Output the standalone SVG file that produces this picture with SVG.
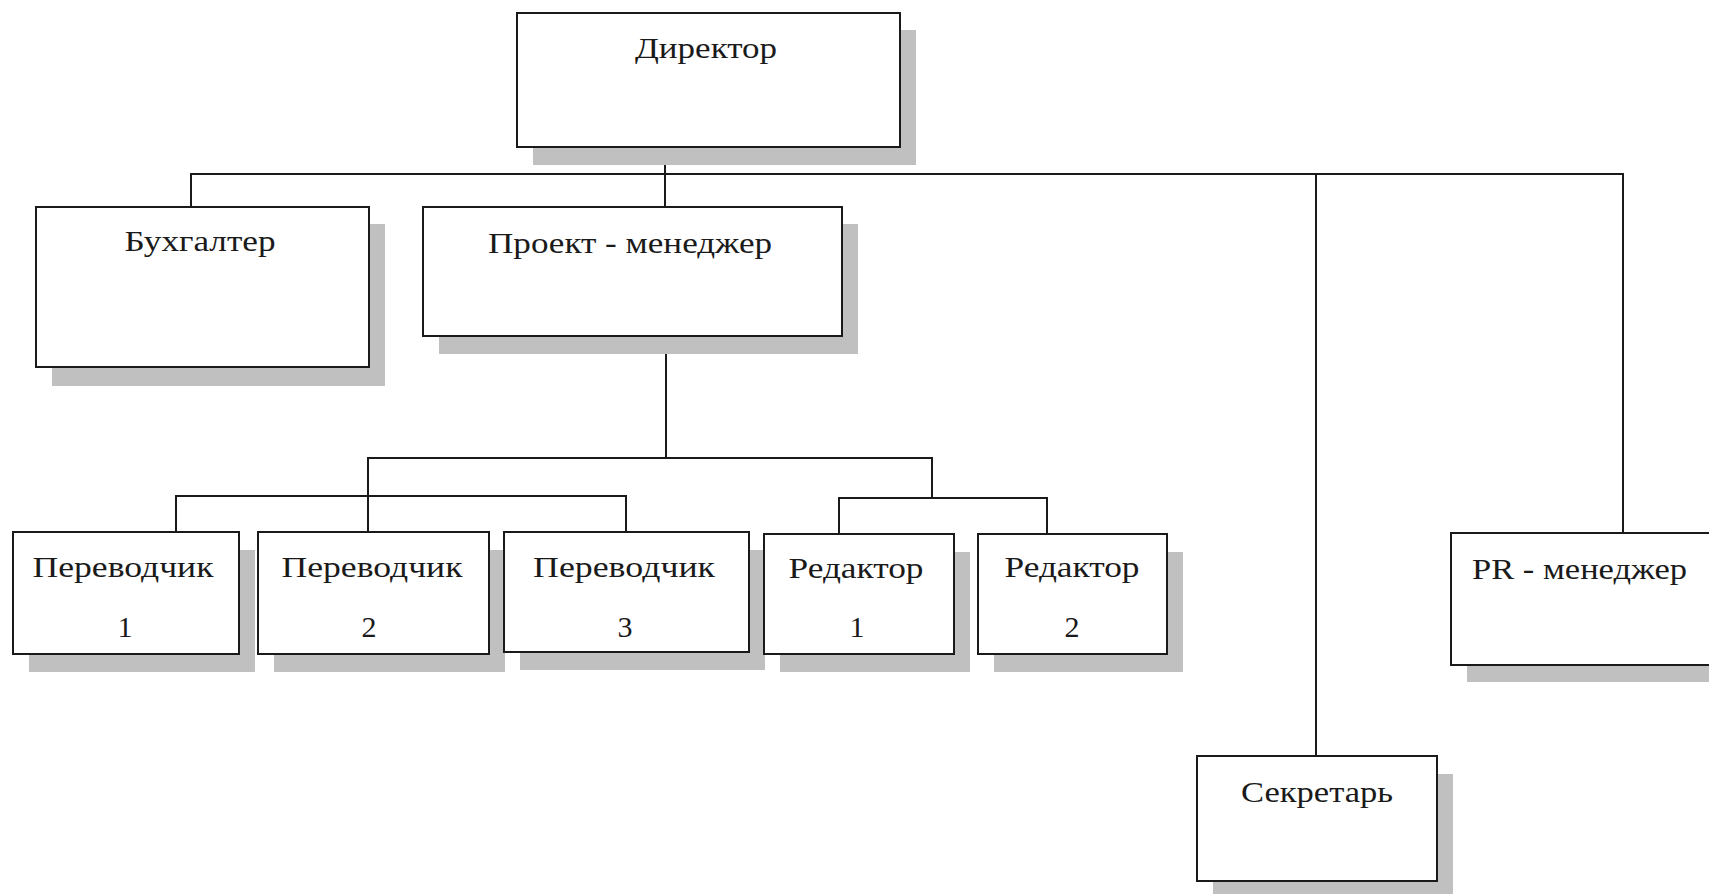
<svg xmlns="http://www.w3.org/2000/svg" width="1709" height="894" viewBox="0 0 1709 894">
<style>
.sh{fill:#c0c0c0;stroke:none}
.bx{fill:#ffffff;stroke:#1a1a1a;stroke-width:2}
.t{font-family:"Liberation Serif","Times New Roman",serif;font-size:30px;fill:#1a1a1a}
.m{text-anchor:middle}
.cn{fill:none;stroke:#1a1a1a;stroke-width:2}
</style>
<rect width="1709" height="894" fill="#ffffff"/>
<g id="connectors">
<path class="cn" d="M665,147 V174"/>
<path class="cn" d="M191,207 V174 H1623 V533"/>
<path class="cn" d="M665,174 V207"/>
<path class="cn" d="M1316,174 V756"/>
<path class="cn" d="M666,336 V458"/>
<path class="cn" d="M368,532 V458 H932 V498"/>
<path class="cn" d="M176,532 V496 H626 V532"/>
<path class="cn" d="M839,534 V498 H1047 V534"/>
</g>
<g id="director">
<rect class="sh" x="533" y="30" width="383" height="135"/>
<rect class="bx" x="517" y="13" width="383" height="134"/>
<text class="t m" x="706" y="58" textLength="142" lengthAdjust="spacingAndGlyphs">Директор</text>
</g>
<g id="buhgalter">
<rect class="sh" x="52" y="224" width="333" height="162"/>
<rect class="bx" x="36" y="207" width="333" height="160"/>
<text class="t m" x="200" y="251" textLength="151" lengthAdjust="spacingAndGlyphs">Бухгалтер</text>
</g>
<g id="project-manager">
<rect class="sh" x="439" y="224" width="419" height="130"/>
<rect class="bx" x="423" y="207" width="419" height="129"/>
<text class="t m" x="630" y="253" textLength="284" lengthAdjust="spacingAndGlyphs">Проект - менеджер</text>
</g>
<g id="translator1">
<rect class="sh" x="29" y="550" width="226" height="122"/>
<rect class="bx" x="13" y="532" width="226" height="122"/>
<text class="t m" x="123" y="577" textLength="181" lengthAdjust="spacingAndGlyphs">Переводчик</text>
<text class="t m" x="125" y="637">1</text>
</g>
<g id="translator2">
<rect class="sh" x="274" y="550" width="231" height="122"/>
<rect class="bx" x="258" y="532" width="231" height="122"/>
<text class="t m" x="372" y="577" textLength="181" lengthAdjust="spacingAndGlyphs">Переводчик</text>
<text class="t m" x="369" y="637">2</text>
</g>
<g id="translator3">
<rect class="sh" x="520" y="550" width="245" height="120"/>
<rect class="bx" x="504" y="532" width="245" height="120"/>
<text class="t m" x="624" y="577" textLength="182" lengthAdjust="spacingAndGlyphs">Переводчик</text>
<text class="t m" x="625" y="637">3</text>
</g>
<g id="editor1">
<rect class="sh" x="780" y="552" width="190" height="120"/>
<rect class="bx" x="764" y="534" width="190" height="120"/>
<text class="t m" x="856" y="578" textLength="135" lengthAdjust="spacingAndGlyphs">Редактор</text>
<text class="t m" x="857" y="637">1</text>
</g>
<g id="editor2">
<rect class="sh" x="994" y="552" width="189" height="120"/>
<rect class="bx" x="978" y="534" width="189" height="120"/>
<text class="t m" x="1072" y="577" textLength="135" lengthAdjust="spacingAndGlyphs">Редактор</text>
<text class="t m" x="1072" y="637">2</text>
</g>
<g id="pr-manager">
<rect class="sh" x="1467" y="550" width="270" height="132"/>
<rect class="bx" x="1451" y="533" width="270" height="132"/>
<text class="t" x="1472" y="579" textLength="215" lengthAdjust="spacingAndGlyphs">PR - менеджер</text>
</g>
<g id="secretary">
<rect class="sh" x="1213" y="774" width="240" height="125"/>
<rect class="bx" x="1197" y="756" width="240" height="125"/>
<text class="t m" x="1317" y="802" textLength="152" lengthAdjust="spacingAndGlyphs">Секретарь</text>
</g>
</svg>
